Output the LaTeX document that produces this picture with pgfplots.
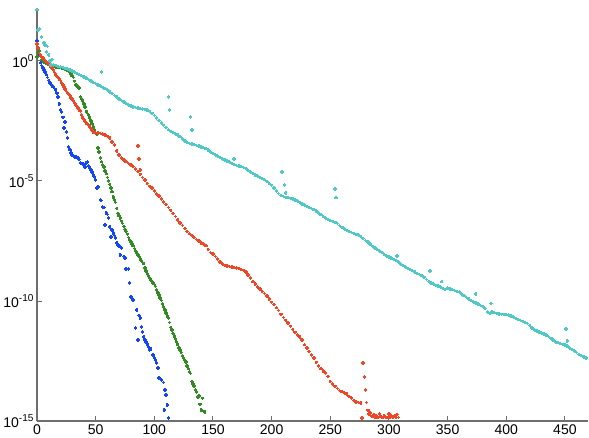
\documentclass[border=0pt]{standalone}
\usepackage{pgfplots}
\pgfplotsset{compat=1.18}
\usepackage{fontspec}
\setmainfont{Liberation Sans}

\definecolor{axgray}{RGB}{110,110,110}
\definecolor{cblue}{RGB}{20,70,245}
\definecolor{cgreen}{RGB}{50,140,35}
\definecolor{cred}{RGB}{240,70,40}
\definecolor{ccyan}{RGB}{80,200,200}

% y values are log10 of the plotted quantity
\newcommand{\expo}[1]{\raisebox{5.5pt}{\fontsize{10}{11}\selectfont #1}}

\begin{document}
\begin{tikzpicture}
\begin{axis}[
  scale only axis,
  width=550pt, height=412pt,
  xmin=0, xmax=470, ymin=-15, ymax=2.2,
  axis x line*=bottom, axis y line*=left,
  axis line style={draw=axgray, line width=1.2pt},
  tick align=inside, major tick length=5pt,
  tick style={axgray, line width=1pt},
  xtick={0,50,...,450},
  ytick={-15,-10,-5,0},
  yticklabels={10\expo{-15},10\expo{-10},10\expo{-5},10\expo{0}},
  ticklabel style={font=\fontsize{14}{16}\selectfont},
  /pgf/number format/assume math mode=true,
  every axis plot/.append style={only marks, mark=+, mark size=1.7pt, mark options={line width=1.6pt}},
]
% blue
\addplot[cblue] coordinates {
(0,0.83) (1,0.54) (2,0.25) (3,-0.08) (4,-0.20) (5,-0.30) (6,-0.38) (7,-0.46) (8,-0.58) (9,-0.70)
(10,-0.82) (11,-0.92) (12,-0.98) (13,-1.04) (14,-1.08) (15,-1.15) (16,-1.21) (17,-1.35) (18,-1.50) (19,-1.80)
(20,-2.04) (21,-2.13) (22,-2.35) (23,-2.79) (24,-2.54) (25,-2.96) (26,-3.21) (27,-3.58) (28,-3.70) (29,-3.83)
(30,-3.92) (31,-3.96) (32,-4.00) (33,-4.00) (34,-4.02) (35,-4.05) (36,-4.10) (37,-4.25) (38,-4.28) (39,-4.30)
(40,-4.33) (41,-4.42) (42,-4.25) (43,-4.20) (44,-4.38) (45,-4.46) (46,-4.54) (47,-4.62) (48,-4.75) (49,-4.83)
(50,-4.96) (51,-5.30) (52,-5.25) (54,-5.79) (55,-5.82) (56,-6.08) (57,-6.10) (58,-6.83) (59,-6.33) (60,-6.40)
(61,-6.54) (62,-6.92) (63,-7.33) (64,-7.05) (65,-7.17) (66,-7.28) (67,-7.38) (68,-7.58) (69,-7.67) (70,-7.72)
(71,-8.08) (72,-7.79) (74,-8.15) (75,-8.21) (76,-8.67) (78,-8.67) (79,-9.25) (80,-9.83) (81,-9.90) (82,-9.96)
(84,-11.13) (85,-10.38) (86,-11.63) (87,-10.60) (88,-10.71) (89,-11.08) (90,-11.29) (91,-11.50) (92,-11.63)
(93,-11.71) (94,-11.80) (95,-11.92) (96,-12.04) (97,-12.00) (99,-12.25) (100,-12.38) (101,-12.45) (102,-12.58)
(103,-12.79) (104,-13.21) (106,-13.29) (108,-13.40) (108.5,-14.54) (109,-13.70) (110,-13.92) (111,-14.33) (112,-14.88)
};
% green
\addplot[cgreen] coordinates {
(0,0.17) (1,0.35) (2,0.42) (3,0.20) (4,0.05) (5,0.00) (6,-0.05) (7,-0.08) (8,-0.12) (9,-0.14)
(10,-0.16) (11,-0.17) (12,-0.19) (13,-0.21) (14,-0.22) (15,-0.24) (16,-0.25) (17,-0.26) (18,-0.27) (19,-0.28)
(20,-0.28) (21,-0.29) (22,-0.30) (23,-0.31) (24,-0.34) (25,-0.38) (26,-0.40) (27,-0.43) (28,-0.46) (29,-0.55)
(30,-0.62) (31,-0.70) (32,-0.85) (33,-1.00) (34,-1.05) (35,-1.10) (36,-1.13) (37,-1.50) (38,-1.58) (39,-1.68)
(40,-1.80) (41,-1.92) (42,-2.10) (43,-2.20) (44,-2.25) (45,-2.38) (46,-2.50) (47,-2.62) (48,-2.75) (49,-2.88)
(50,-3.00) (51,-3.05) (52,-3.63) (53,-3.80) (54,-4.04) (55,-4.20) (56,-4.33) (57,-4.42) (58,-4.58) (59,-4.70)
(60,-4.85) (61,-5.00) (62,-5.15) (63,-5.30) (64,-5.45) (65,-5.67) (66,-5.80) (67,-5.90) (68,-6.15) (69,-6.35)
(70,-6.45) (71,-6.55) (72,-6.68) (73,-6.78) (74,-6.90) (75,-7.02) (76,-7.10) (77,-7.22) (78,-7.35) (79,-7.45)
(80,-7.55) (81,-7.62) (82,-7.70) (83,-7.82) (84,-7.92) (85,-8.00) (86,-8.08) (87,-8.15) (88,-8.25) (89,-8.33)
(90,-8.40) (91,-8.45) (92,-8.62) (93,-8.75) (94,-8.85) (95,-8.95) (96,-9.04) (97,-9.12) (98,-9.18) (99,-9.25)
(100,-9.32) (101,-9.40) (102,-9.55) (103,-9.67) (104,-9.75) (105,-9.88) (106,-9.98) (107,-10.12) (108,-10.25) (109,-10.38)
(110,-10.50) (111,-10.62) (112,-10.71) (113,-10.90) (114,-11.10) (115,-11.21) (116,-11.35) (117,-11.45) (118,-11.58) (119,-11.70)
(120,-11.82) (121,-11.95) (122,-12.05) (123,-12.15) (124,-12.28) (125,-12.38) (126,-12.48) (127,-12.55) (128,-12.70) (129,-12.82)
(130,-12.95) (131,-13.02) (132,-13.35) (133,-13.45) (134,-13.55) (135,-13.70) (136,-13.80) (137,-14.00) (138,-13.95) (139,-14.30)
(140,-14.54) (141,-14.05) (142,-14.60) (143,-14.63)
};
% red
\addplot[cred] coordinates {
(0,0.70) (1,0.54) (2,0.30) (3,0.25) (4,0.15) (5,0.12) (6,0.05) (7,0.02) (8,-0.04) (9,-0.08)
(10,-0.13) (11,-0.17) (12,-0.25) (13,-0.30) (14,-0.38) (15,-0.48) (16,-0.58) (17,-0.65) (18,-0.70) (19,-0.76)
(20,-0.82) (21,-0.92) (22,-1.00) (23,-1.10) (24,-1.18) (25,-1.28) (26,-1.33) (27,-1.38) (28,-1.45) (29,-1.55)
(30,-1.60) (31,-1.66) (32,-1.75) (33,-1.83) (34,-1.90) (35,-1.96) (36,-2.04) (37,-2.10) (38,-2.25) (39,-2.38)
(40,-2.45) (41,-2.52) (42,-2.58) (43,-2.63) (44,-2.68) (45,-2.75) (46,-2.82) (47,-2.90) (48,-2.96) (49,-2.98)
(50,-2.99) (52,-3.00) (54,-3.02) (56,-3.05) (58,-3.08) (60,-3.14) (62,-3.21) (64,-3.38) (66,-3.50) (68,-3.75)
(70,-3.92) (72,-4.05) (74,-4.13) (76,-4.20) (78,-4.28) (80,-4.33) (82,-4.40) (84,-4.50) (86,-4.60) (88,-4.72)
(86,-3.54) (87,-4.08) (88,-4.54)
(90,-4.85) (92,-4.96) (94,-5.10) (96,-5.22) (98,-5.30) (100,-5.42) (102,-5.55) (104,-5.62) (106,-5.75) (108,-5.88)
(110,-5.98) (112,-6.10) (114,-6.22) (116,-6.35) (118,-6.48) (120,-6.62) (122,-6.75) (124,-6.86) (126,-6.98) (128,-7.10)
(130,-7.20) (132,-7.28) (134,-7.36) (136,-7.44) (138,-7.50) (140,-7.58) (142,-7.62) (144,-7.70) (146,-7.85) (148,-7.98)
(150,-8.05) (152,-8.14) (154,-8.25) (156,-8.38) (158,-8.46) (160,-8.52) (162,-8.55) (164,-8.57) (166,-8.59) (168,-8.61)
(170,-8.63) (172,-8.65) (174,-8.68) (176,-8.72) (178,-8.79) (180,-8.92) (182,-9.05) (184,-9.20) (186,-9.30) (188,-9.42)
(190,-9.50) (192,-9.60) (194,-9.68) (196,-9.80) (198,-9.92) (200,-10.05) (202,-10.15) (204,-10.28) (206,-10.40) (208,-10.55)
(210,-10.68) (212,-10.80) (214,-10.92) (216,-11.05) (218,-11.18) (220,-11.30) (222,-11.42) (224,-11.50) (226,-11.62) (228,-11.82)
(230,-11.95) (232,-12.10) (234,-12.25) (236,-12.38) (238,-12.55) (240,-12.70) (242,-12.82) (244,-12.92) (246,-13.00) (248,-13.15)
(250,-13.35) (252,-13.45) (254,-13.55) (256,-13.65) (258,-13.72) (260,-13.78) (262,-13.83) (264,-13.88) (266,-13.98) (268,-14.04)
(270,-14.15) (272,-14.20) (274,-14.22) (276,-14.25) (277,-14.88) (278,-12.58) (279,-13.17) (280,-13.70) (281,-14.22) (282,-14.55)
(283,-14.70) (284,-14.66) (285,-14.80) (286,-14.82) (287,-14.72) (288,-14.85) (289,-14.78) (290,-14.85) (291,-14.85) (292,-14.70)
(293,-14.82) (294,-14.85) (295,-14.85) (296,-14.78) (297,-14.85) (298,-14.85) (299,-14.85) (300,-14.70) (301,-14.85) (302,-14.78)
(303,-14.85) (304,-14.85) (305,-14.78) (306,-14.85) (307,-14.72) (308,-14.85)
};
% cyan
\addplot[ccyan] coordinates {
(0,2.13) (1,1.29) (2,1.33) (4,1.00) (6,0.74) (7,0.65) (8,0.37) (9,0.60) (10,0.25) (11,0.00) (12,-0.17) (13,0.05)
(14,-0.18) (16,-0.20) (18,-0.23) (20,-0.25) (22,-0.28) (24,-0.31) (26,-0.34) (28,-0.38) (30,-0.42) (32,-0.46)
(34,-0.52) (36,-0.57) (38,-0.62) (40,-0.68) (42,-0.72) (44,-0.78) (46,-0.84) (48,-0.90) (50,-0.95) (52,-1.00)
(54,-1.05) (56,-1.10) (58,-1.16) (60,-1.22) (62,-1.29) (64,-1.36) (66,-1.44) (68,-1.51) (70,-1.58) (72,-1.65)
(74,-1.72) (76,-1.78) (78,-1.84) (80,-1.88) (82,-1.92) (84,-1.95) (86,-1.97) (88,-1.99) (90,-2.01) (92,-2.03)
(94,-2.05) (96,-2.10) (98,-2.18) (100,-2.28) (102,-2.38) (104,-2.48) (106,-2.58) (108,-2.68) (110,-2.78) (112,-2.87)
(114,-2.93) (116,-2.99) (118,-3.04) (120,-3.09) (122,-3.16) (124,-3.25) (126,-3.34) (128,-3.40) (130,-3.44) (132,-3.46)
(134,-3.49) (136,-3.52) (138,-3.55) (140,-3.59) (142,-3.62) (144,-3.66) (146,-3.72) (148,-3.79) (150,-3.86) (152,-3.92)
(154,-3.97) (156,-4.02) (158,-4.08) (160,-4.13) (162,-4.17) (164,-4.22) (166,-4.27) (168,-4.32) (170,-4.35) (172,-4.38)
(174,-4.41) (176,-4.44) (178,-4.48) (180,-4.56) (182,-4.62) (184,-4.69) (186,-4.75) (188,-4.80) (190,-4.85) (192,-4.90)
(194,-4.95) (196,-5.02) (198,-5.10) (200,-5.18) (202,-5.30) (204,-5.42) (206,-5.52) (208,-5.60) (210,-5.65) (212,-5.68)
(214,-5.70) (216,-5.72) (218,-5.75) (220,-5.79) (222,-5.84) (224,-5.90) (226,-5.96) (228,-6.01) (230,-6.06) (232,-6.11)
(234,-6.15) (236,-6.20) (238,-6.26) (240,-6.33) (242,-6.41) (244,-6.49) (246,-6.55) (248,-6.60) (250,-6.64) (252,-6.68)
(254,-6.72) (256,-6.78) (258,-6.85) (260,-6.93) (262,-7.00) (264,-7.06) (266,-7.11) (268,-7.15) (270,-7.19) (272,-7.22)
(274,-7.25) (276,-7.32) (278,-7.40) (280,-7.48) (282,-7.55) (284,-7.62) (286,-7.72) (288,-7.80) (290,-7.86) (292,-7.92)
(294,-7.98) (296,-8.06) (298,-8.12) (300,-8.17) (302,-8.21) (304,-8.26) (306,-8.31) (308,-8.38) (310,-8.46) (312,-8.52)
(314,-8.58) (316,-8.64) (318,-8.69) (320,-8.74) (322,-8.80) (324,-8.85) (326,-8.90) (328,-8.95) (330,-9.01) (332,-9.10)
(334,-9.19) (336,-9.25) (338,-9.30) (340,-9.35) (342,-9.38) (344,-9.42) (346,-9.48) (348,-9.52) (350,-9.46) (352,-9.50)
(354,-9.53) (356,-9.57) (358,-9.60) (360,-9.63) (362,-9.70) (364,-9.78) (366,-9.85) (368,-9.92) (370,-9.98) (372,-10.04)
(374,-10.09) (376,-10.13) (378,-10.18) (380,-10.23) (382,-10.32) (384,-10.45) (386,-10.52) (388,-10.46) (390,-10.49) (392,-10.52)
(394,-10.54) (396,-10.55) (398,-10.56) (400,-10.57) (402,-10.59) (404,-10.63) (406,-10.67) (408,-10.72) (410,-10.77) (412,-10.81)
(414,-10.85) (416,-10.89) (418,-10.94) (420,-11.02) (422,-11.12) (424,-11.20) (426,-11.25) (428,-11.29) (430,-11.33) (432,-11.37)
(434,-11.41) (436,-11.47) (438,-11.55) (440,-11.63) (442,-11.70) (444,-11.74) (446,-11.77) (448,-11.80) (450,-11.83) (452,-11.88)
(454,-11.95) (456,-12.02) (458,-12.08) (460,-12.15) (462,-12.22) (464,-12.28) (466,-12.33) (468,-12.38)
(55,-0.46) (112,-1.50) (113,-2.04) (131,-2.33) (132,-2.88) (168,-4.08) (209,-4.62) (211,-5.17) (212,-5.50)
(254,-5.33) (255,-5.70) (307,-8.13) (335,-8.75) (345,-9.20) (374,-9.70) (387,-10.10) (451,-11.17) (452,-11.67)
};
\end{axis}
\path ([yshift=8pt]current axis.north);
\end{tikzpicture}
\end{document}
